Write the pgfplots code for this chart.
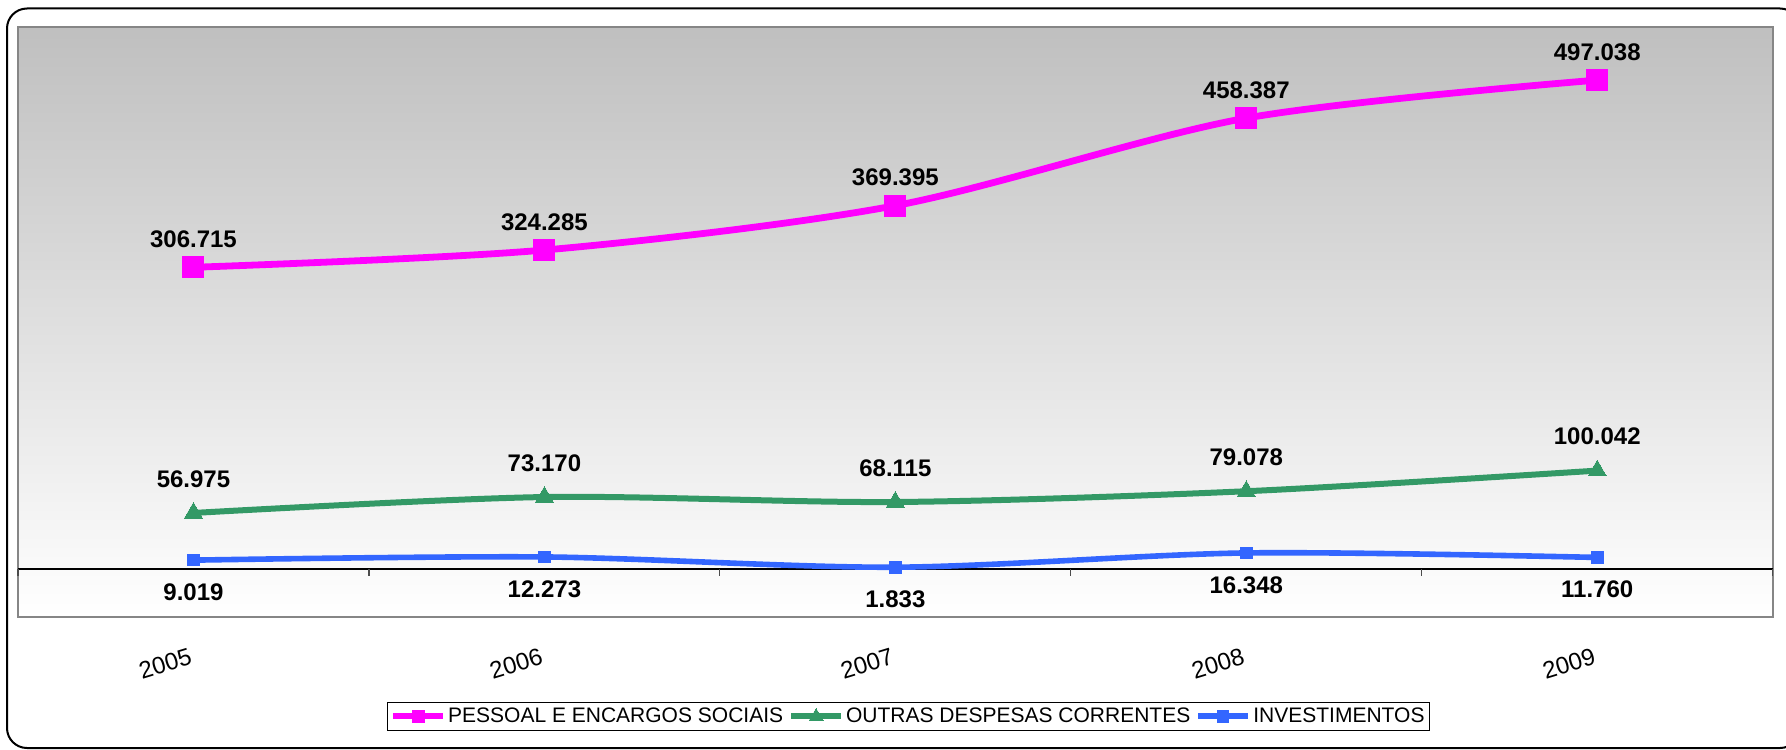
\documentclass[border=0pt]{standalone}
\usepackage{pgfplots}
\pgfplotsset{compat=1.18}
\usepackage{fontspec}
\setmainfont{Liberation Sans}
\definecolor{cMag}{HTML}{FF00FF}
\definecolor{cGrn}{HTML}{339966}
\definecolor{cBlu}{HTML}{3366FF}
\definecolor{cFrame}{HTML}{868686}
\begin{document}
\begin{tikzpicture}
\clip (0pt,0pt) rectangle (893pt,-374.5pt);
\path[use as bounding box] (0pt,0pt) rectangle (893pt,-374.5pt);
\draw[line width=1pt, rounded corners=10pt] (3.5pt,-4.25pt) rectangle (900pt,-374pt);
\begin{axis}[
  at={(9pt,-13.5pt)}, anchor=north west,
  scale only axis, width=877.35pt, height=295pt,
  xmin=-0.5, xmax=4.5, ymin=-48.8, ymax=551,
  xtick={0,1,2,3,4}, xticklabels={2005,2006,2007,2008,2009},
  ytick=\empty,
  major tick length=0pt,
  axis line style={draw=cFrame, line width=1pt},
  axis background/.style={top color=black!25, bottom color=white},
  xticklabel style={font=\fontsize{12}{14}\selectfont, inner sep=0pt, xshift=-2.5pt, yshift=-15pt, rotate=17, anchor=north east},
  clip=false,
  legend style={at={(0.5074,-0.1686)}, anchor=center, legend columns=3, draw=black, line width=0.5pt,
    font=\fontsize{10.5}{12}\selectfont, inner sep=1.5pt,
    /tikz/every even column/.append style={column sep=1.5pt},
    nodes={inner sep=1pt}},
  legend image code/.code={\draw[mark repeat=2,mark phase=2,#1] plot coordinates {(0pt,0pt) (12.5pt,0pt) (25pt,0pt)};},
]
% zero line and category separators
\draw[black, line width=0.8pt] (axis cs:-0.5,0) -- (axis cs:4.5,0);
\pgfplotsinvokeforeach{-0.5,0.5,1.5,2.5,3.5,4.5}{
  \draw[black!70, line width=0.6pt] (axis cs:#1,0) -- ([yshift=-3.7pt]axis cs:#1,0);
}

\addlegendimage{cMag, line width=3pt, mark=square*, mark size=3pt, mark options={solid, line width=0pt}}
\addlegendentry{PESSOAL E ENCARGOS SOCIAIS}
\addlegendimage{cGrn, line width=3pt, mark=triangle*, mark size=4pt, mark options={solid, line width=0pt}}
\addlegendentry{OUTRAS DESPESAS CORRENTES}
\addlegendimage{cBlu, line width=3pt, mark=square*, mark size=2.8pt, mark options={solid, line width=0pt}}
\addlegendentry{INVESTIMENTOS}

\addplot[cMag, line width=3.4pt, smooth, tension=0.5, mark=square*, mark size=5.25pt, mark options={solid, line width=0pt},
  nodes near coords, point meta=explicit symbolic,
  every node near coord/.append style={anchor=center, yshift=14pt, text=black, font=\bfseries\fontsize{12}{14}\selectfont}, forget plot]
  coordinates {(0,306.715)[306.715] (1,324.285)[324.285] (2,369.395)[369.395] (3,458.387)[458.387] (4,497.038)[497.038]};

\addplot[cGrn, line width=3pt, smooth, tension=0.5, mark=triangle*, mark size=5.2pt, mark options={solid, line width=0pt},
  nodes near coords, point meta=explicit symbolic,
  every node near coord/.append style={anchor=center, yshift=17pt, text=black, font=\bfseries\fontsize{12}{14}\selectfont}, forget plot]
  coordinates {(0,56.975)[56.975] (1,73.170)[73.170] (2,68.115)[68.115] (3,79.078)[79.078] (4,100.042)[100.042]};

\addplot[cBlu, line width=2.8pt, smooth, tension=0.5, mark=square*, mark size=2.9pt, mark options={solid, line width=0pt},
  nodes near coords, point meta=explicit symbolic,
  every node near coord/.append style={anchor=center, yshift=-16pt, text=black, font=\bfseries\fontsize{12}{14}\selectfont}, forget plot]
  coordinates {(0,9.019)[9.019] (1,12.273)[12.273] (2,1.833)[1.833] (3,16.348)[16.348] (4,11.760)[11.760]};
\end{axis}
\end{tikzpicture}
\end{document}
